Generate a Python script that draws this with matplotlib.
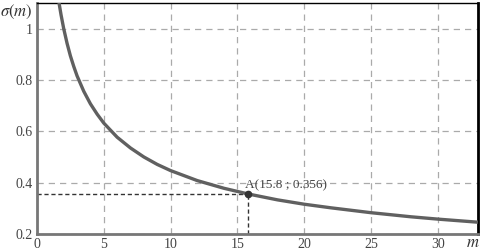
import numpy as np
import matplotlib
matplotlib.use('Agg')
import matplotlib.pyplot as plt

plt.rcParams['font.family'] = 'Liberation Serif'

# sigma(m)
m_vals = [1.65, 1.8, 2.0, 2.25, 2.5, 2.75, 3.0, 3.5, 4.0, 4.5, 5.0, 6.0, 7.0, 8.0, 9.0, 10.0,
          12.0, 14.0, 15.8, 18.0, 20.0, 22.0, 25.0, 28.0, 30.0, 33.0]
sigma_vals = [1.10, 1.054, 1.00, 0.943, 0.894, 0.853, 0.816, 0.756, 0.707, 0.667, 0.632,
              0.577, 0.535, 0.500, 0.471, 0.447, 0.408, 0.378, 0.356, 0.333, 0.316,
              0.302, 0.283, 0.267, 0.258, 0.246]
point_a = (15.8, 0.356)
x_ticks = [0, 5, 10, 15, 20, 25, 30]
y_ticks = [0.2, 0.4, 0.6, 0.8, 1.0]
y_tick_labels = ['0.2', '0.4', '0.6', '0.8', '1']

fig = plt.figure(figsize=(4.84, 2.52), dpi=100)
ax = fig.add_axes([0.0764, 0.0714, 0.911, 0.917])

ax.plot(m_vals, sigma_vals, color='#606060', lw=2.4, solid_capstyle='butt', zorder=3)

# marker for point A and its dashed guides
ax.plot([0, point_a[0]], [point_a[1], point_a[1]], color='#333333', lw=1.0,
        ls=(0, (3, 2)), zorder=2)
ax.plot([point_a[0], point_a[0]], [0.2, point_a[1]], color='#333333', lw=1.0,
        ls=(0, (3, 2)), zorder=2)
ax.plot(*point_a, 'o', color='#333333', ms=4.5, zorder=4)
ax.text(point_a[0] - 0.2, point_a[1] + 0.012, 'A(15.8 ; 0.356)', fontsize=9.5,
        color='#444444', ha='left', va='bottom')

ax.set_xlim(0, 33)
ax.set_ylim(0.2, 1.1)
ax.set_xticks(x_ticks)
ax.set_yticks(y_ticks)
ax.set_yticklabels(y_tick_labels)
ax.tick_params(length=0, labelsize=10, labelcolor='#444444', pad=3)
ax.grid(True, color='#aaaaaa', ls=(0, (5, 4)), lw=0.9)

for side in ['left', 'bottom']:
    ax.spines[side].set_color('#777777')
    ax.spines[side].set_linewidth(2)
ax.spines['top'].set_color('black')
ax.spines['top'].set_linewidth(1)
ax.spines['right'].set_color('black')
ax.spines['right'].set_linewidth(2)

fig.text(0.0, 0.99, r'$\sigma(m)$', fontsize=12, color='#333333', ha='left', va='top',
         math_fontfamily='stix')
fig.text(0.962, 0.005, r'$m$', fontsize=12, color='#333333', ha='left', va='bottom',
         math_fontfamily='stix')

fig.savefig('out.png', dpi=100)
